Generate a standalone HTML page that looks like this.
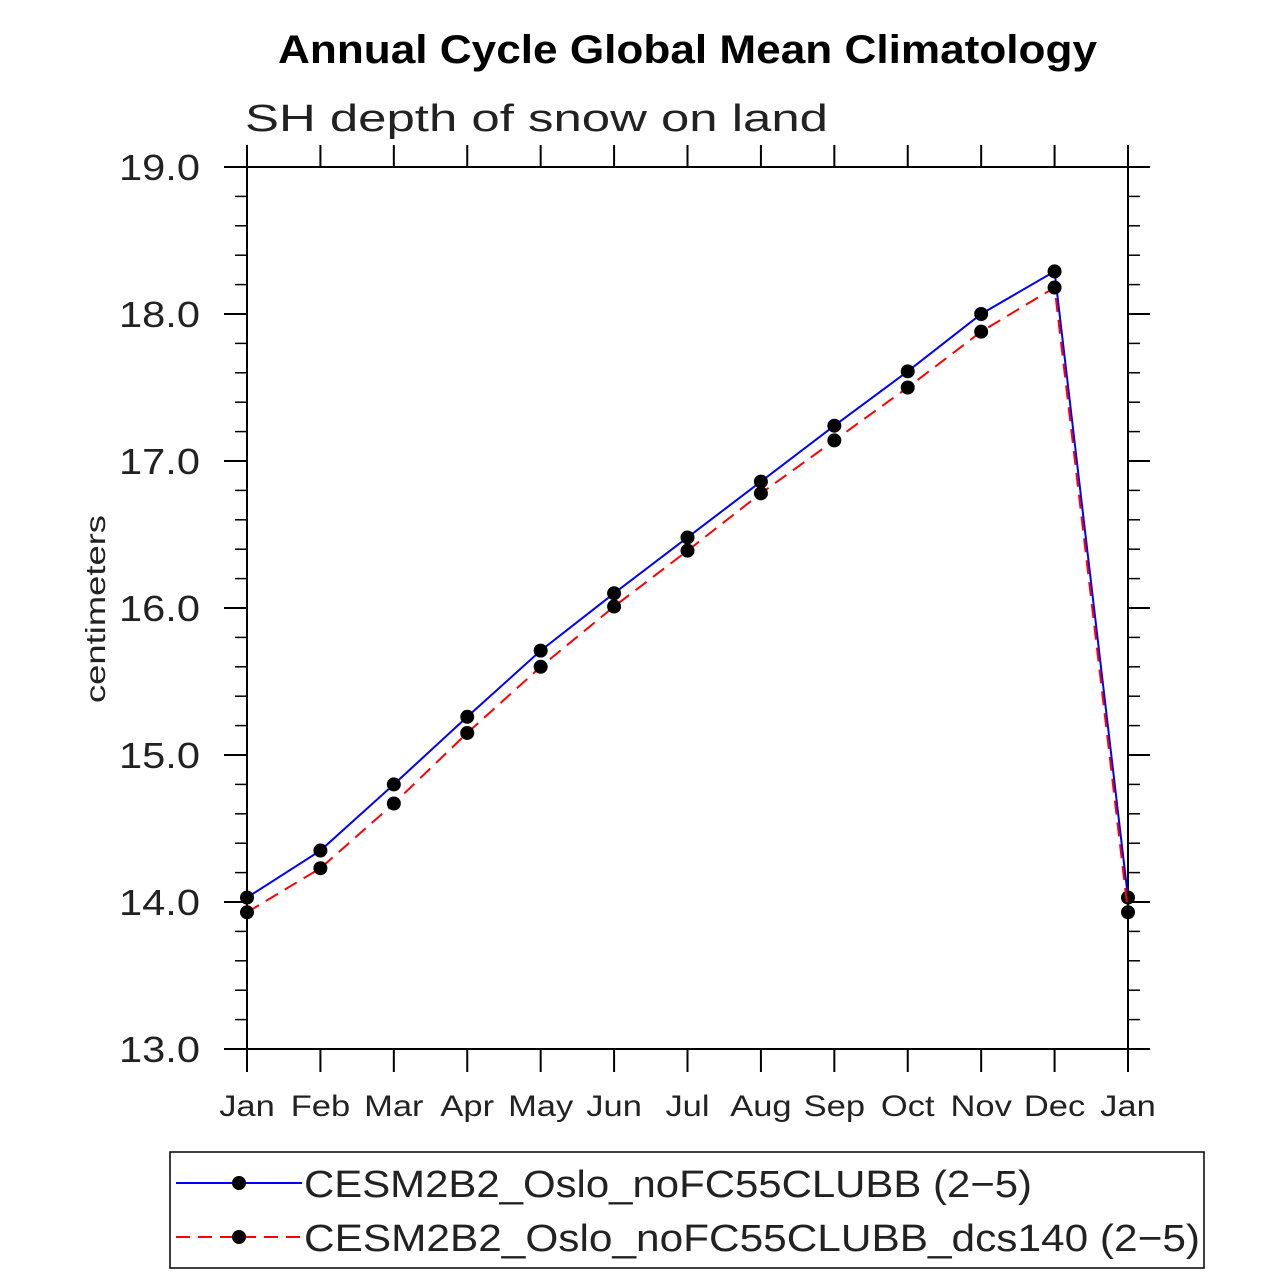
<!DOCTYPE html>
<html><head><meta charset="utf-8"><style>body{margin:0;background:#fff}svg{display:block}</style></head>
<body>
<svg id="chart" width="1285" height="1275" xmlns="http://www.w3.org/2000/svg" font-family="Liberation Sans, sans-serif">
<text x="278" y="63" textLength="819" lengthAdjust="spacingAndGlyphs" font-size="40" font-weight="bold">Annual Cycle Global Mean Climatology</text>
<text x="245" y="131" textLength="583" lengthAdjust="spacingAndGlyphs" font-size="38" fill="#222">SH depth of snow on land</text>
<text transform="translate(105,515) rotate(-90)" x="-188" textLength="188" lengthAdjust="spacingAndGlyphs" font-size="28" fill="#222">centimeters</text>
<g id="axes"></g>
<g id="series"></g>
<rect x="170" y="1152" width="1034" height="116" fill="none" stroke="#000" stroke-width="1.5"/>
<line x1="176" y1="1183" x2="302" y2="1183" stroke="#0000ff" stroke-width="2"/>
<circle cx="239" cy="1183" r="7" fill="#000"/>
<text x="304" y="1197" textLength="728" lengthAdjust="spacingAndGlyphs" font-size="38" fill="#222">CESM2B2_Oslo_noFC55CLUBB (2−5)</text>
<line x1="176" y1="1237" x2="302" y2="1237" stroke="#ff0000" stroke-width="2" stroke-dasharray="14,8"/>
<circle cx="239" cy="1237" r="7" fill="#000"/>
<text x="304" y="1251" textLength="896" lengthAdjust="spacingAndGlyphs" font-size="38" fill="#222">CESM2B2_Oslo_noFC55CLUBB_dcs140 (2−5)</text>
</svg>
<script>
const months = ["Jan","Feb","Mar","Apr","May","Jun","Jul","Aug","Sep","Oct","Nov","Dec","Jan"];
const blueVals = [14.03,14.35,14.80,15.26,15.71,16.10,16.48,16.86,17.24,17.61,18.00,18.29,14.03];
const redVals = [13.93,14.23,14.67,15.15,15.60,16.01,16.39,16.78,17.14,17.50,17.88,18.18,13.93];
const yTicks = [13,14,15,16,17,18,19];
const yTickLabels = ["13.0","14.0","15.0","16.0","17.0","18.0","19.0"];
const NS="http://www.w3.org/2000/svg";
const X0=247,X1=1128,Y0=1049,Y1=167,YMIN=13,YMAX=19;
const xs=i=>X0+(X1-X0)*i/(months.length-1);
const ys=v=>Y0-(v-YMIN)/(YMAX-YMIN)*(Y0-Y1);
function mk(t,a,p){const e=document.createElementNS(NS,t);for(const k in a)e.setAttribute(k,a[k]);p.appendChild(e);return e;}
const ax=document.getElementById('axes');
const fr=mk('rect',{x:X0,y:Y1,width:X1-X0,height:Y0-Y1,fill:'none',stroke:'#000','stroke-width':2},ax);


months.forEach((m,i)=>{const x=xs(i);
 mk('line',{x1:x,y1:Y0,x2:x,y2:Y0+23,stroke:'#000','stroke-width':2},ax);
 mk('line',{x1:x,y1:Y1,x2:x,y2:Y1-22,stroke:'#000','stroke-width':2},ax);
 const t=mk('text',{x:x,y:Y0+67,'text-anchor':'middle','font-size':30,fill:'#222','transform':'translate('+x+',0) scale(1.15,1) translate('+(-x)+',0)'},ax);t.textContent=m;
 
 
});
yTicks.forEach((v,i)=>{const y=ys(v);
 mk('line',{x1:X0-23,y1:y,x2:X0,y2:y,stroke:'#000','stroke-width':2},ax);
 mk('line',{x1:X1,y1:y,x2:X1+22,y2:y,stroke:'#000','stroke-width':2},ax);
 const t=mk('text',{x:119,y:y+13,textLength:81,lengthAdjust:'spacingAndGlyphs','font-size':36,fill:'#222'},ax);t.textContent=yTickLabels[i];
 
 
 if(i<yTicks.length-1)for(let k=1;k<5;k++){const yy=ys(v+k*0.2);
  mk('line',{x1:X0-12,y1:yy,x2:X0,y2:yy,stroke:'#000','stroke-width':1.5},ax);
  mk('line',{x1:X1,y1:yy,x2:X1+12,y2:yy,stroke:'#000','stroke-width':1.5},ax);}
});
const sg=document.getElementById('series');
function series(vals,color,dash,name){
 const p=mk('polyline',{points:vals.map((v,i)=>xs(i)+','+ys(v)).join(' '),fill:'none',stroke:color,'stroke-width':2,'stroke-dasharray':dash},sg);
 
 
 vals.forEach((v,i)=>{const c=mk('circle',{cx:xs(i),cy:ys(v),r:7,fill:'#000'},sg);
  
  });
}
series(blueVals,'#0000ff','none','blue-series');
series(redVals,'#ff0000','14,8','red-series');
</script>
</body></html>
